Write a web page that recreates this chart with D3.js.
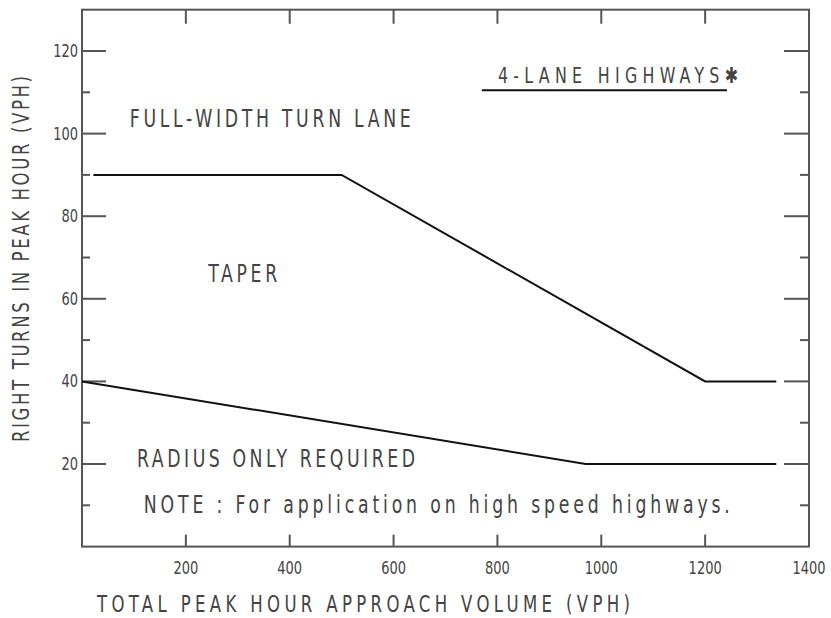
<!DOCTYPE html>
<html>
<head>
<meta charset="utf-8">
<script src="https://cdn.jsdelivr.net/npm/d3@7"></script>
<style>
  body { margin: 0; background: #fff; }
  text { font-family: "DejaVu Sans Condensed", "DejaVu Sans", sans-serif; font-stretch: condensed; fill: #444; }
</style>
</head>
<body>
<svg id="chart" width="831" height="618"></svg>
<script>
// chart values
var xTickValues = [200, 400, 600, 800, 1000, 1200];
var xTickLabels = [200, 400, 600, 800, 1000, 1200, 1400];
var yTickValues = [20, 40, 60, 80, 100, 120];
var yMinorValues = [10, 30, 50, 70, 90, 110];

// boundary between full-width turn lane and taper
var upperX = [22, 500, 1200, 1337];
var upperY = [90, 90, 40, 40];
// boundary between taper and radius only
var lowerX = [0, 970, 1337];
var lowerY = [40, 20, 20];

var xTitle = "TOTAL PEAK HOUR APPROACH VOLUME (VPH)";
var yTitle = "RIGHT TURNS IN PEAK HOUR (VPH)";

var svg = d3.select("#chart");

var x = d3.scaleLinear().domain([0, 1400]).range([82, 809]);
var y = d3.scaleLinear().domain([0, 130]).range([546.6, 9.7]);

var frameColor = "#555";
var squeeze = 0.8; // CAD lettering is narrower than the screen font

// frame
svg.append("rect")
  .attr("x", x(0)).attr("y", y(130))
  .attr("width", x(1400) - x(0)).attr("height", y(0) - y(130))
  .attr("fill", "none").attr("stroke", frameColor).attr("stroke-width", 2);

// ticks
var tickG = svg.append("g").attr("stroke", frameColor).attr("stroke-width", 2);
xTickValues.forEach(function(v) {
  tickG.append("line").attr("x1", x(v)).attr("x2", x(v)).attr("y1", y(130)).attr("y2", y(130) + 14);
  tickG.append("line").attr("x1", x(v)).attr("x2", x(v)).attr("y1", y(0)).attr("y2", y(0) - 12);
});
yTickValues.forEach(function(v) {
  tickG.append("line").attr("x1", x(0)).attr("x2", x(0) + 24).attr("y1", y(v)).attr("y2", y(v));
  tickG.append("line").attr("x1", x(1400)).attr("x2", x(1400) - 25).attr("y1", y(v)).attr("y2", y(v));
});
yMinorValues.forEach(function(v) {
  tickG.append("line").attr("x1", x(0)).attr("x2", x(0) + 8).attr("y1", y(v)).attr("y2", y(v));
  tickG.append("line").attr("x1", x(1400)).attr("x2", x(1400) - 9).attr("y1", y(v)).attr("y2", y(v));
});

// tick labels
svg.append("g").selectAll("text")
  .data(xTickLabels)
  .enter().append("text")
  .attr("transform", function(d) { return "translate(" + x(d) + ",574) scale(0.85,1)"; })
  .attr("text-anchor", "middle")
  .attr("font-size", 17)
  .text(function(d) { return d; });

svg.append("g").selectAll("text")
  .data(yTickValues)
  .enter().append("text")
  .attr("transform", function(d) { return "translate(78," + (y(d) + 6) + ") scale(0.85,1)"; })
  .attr("text-anchor", "end")
  .attr("font-size", 17)
  .text(function(d) { return d; });

// curves
var line = d3.line()
  .x(function(d) { return x(d[0]); })
  .y(function(d) { return y(d[1]); });

svg.append("path")
  .datum(d3.zip(upperX, upperY))
  .attr("d", line)
  .attr("fill", "none").attr("stroke", "#111").attr("stroke-width", 2);

svg.append("path")
  .datum(d3.zip(lowerX, lowerY))
  .attr("d", line)
  .attr("fill", "none").attr("stroke", "#111").attr("stroke-width", 2);

// lettering placed at pixel position, squeezed horizontally, stretched to a given length
function letter(txt, px, py, len, size, rot) {
  return svg.append("text")
    .attr("transform", "translate(" + px + "," + py + ")" + (rot ? " rotate(" + rot + ")" : "") + " scale(" + squeeze + ",1)")
    .attr("font-size", size)
    .attr("textLength", len / squeeze)
    .attr("lengthAdjust", "spacing")
    .text(txt);
}

// region labels
letter("FULL-WIDTH TURN LANE", x(92), y(101.6), 281, 24);
letter("TAPER", x(243), y(64), 69, 24);
letter("RADIUS ONLY REQUIRED", x(106), y(19.3), 278, 24);
letter("NOTE : For application on high speed highways.", x(119), y(8.2), 586, 24);
letter("4-LANE HIGHWAYS\u2731", x(801), y(112.3), 240, 22);

svg.append("line")
  .attr("x1", x(770)).attr("x2", x(1242))
  .attr("y1", y(110.5)).attr("y2", y(110.5))
  .attr("stroke", "#111").attr("stroke-width", 2);

// axis titles
letter(xTitle, 97, 612, 533, 23);
letter(yTitle, 29, 442, 366, 23, -90);
</script>
</body>
</html>
